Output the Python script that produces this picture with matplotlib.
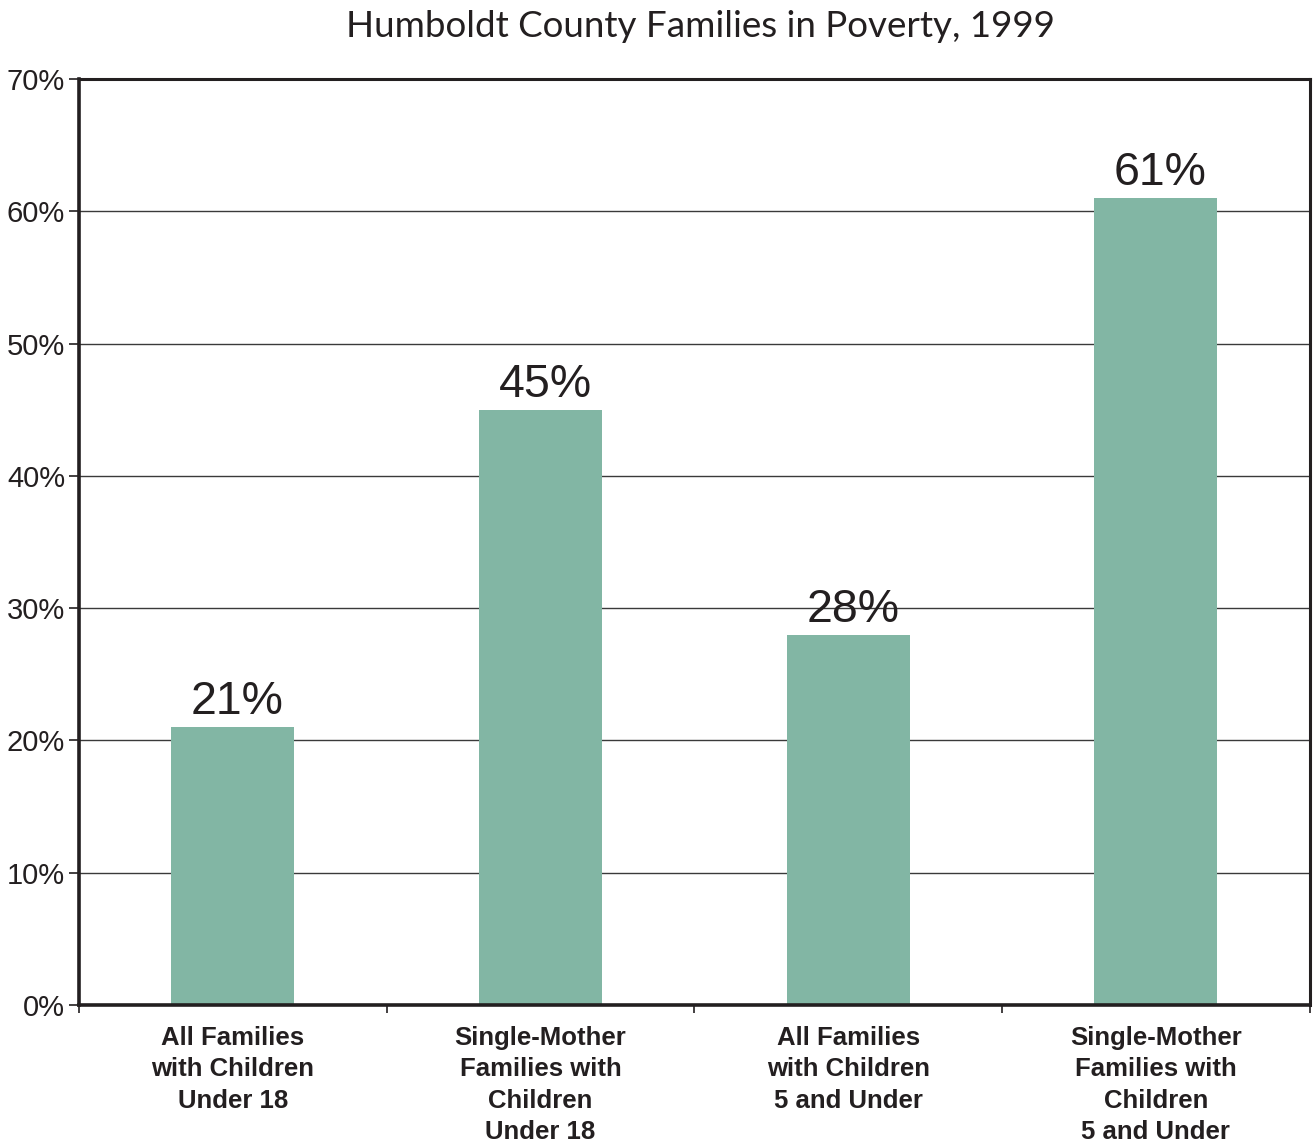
import matplotlib.pyplot as plt

# data
categories = ['All Families\nwith Children\nUnder 18',
              'Single-Mother\nFamilies with\nChildren\nUnder 18',
              'All Families\nwith Children\n5 and Under',
              'Single-Mother\nFamilies with\nChildren\n5 and Under']
values = [21, 45, 28, 61]
y_ticks = [0, 10, 20, 30, 40, 50, 60, 70]

bar_color = '#82b6a4'
text_color = '#231f20'

plt.rcParams['font.family'] = ['Liberation Sans', 'DejaVu Sans']

fig = plt.figure(figsize=(13.15, 11.47), dpi=100)
ax = fig.add_axes([0.060, 0.1238, 0.936, 0.8073])

x = range(len(values))
bars = ax.bar(x, values, width=0.40, color=bar_color, zorder=2)

for i, v in enumerate(values):
    ax.annotate(str(v) + '%', (i + 0.015, v), xytext=(0, 2), textcoords='offset points',
                ha='center', va='bottom', fontsize=33.5, color=text_color)

ax.set_xlim(-0.5, len(values) - 0.5)
ax.set_ylim(0, 70)
ax.set_yticks(y_ticks)
ax.set_yticklabels([str(t) + '%' for t in y_ticks], fontsize=21, color=text_color)
ax.yaxis.grid(True, color='#3a3a3a', linewidth=1.0, zorder=1)
ax.set_axisbelow(True)

# category boundaries carry the x ticks, labels go under the bars
ax.set_xticks([i - 0.5 for i in range(len(values) + 1)])
ax.set_xticklabels([])
ax.tick_params(axis='x', length=6, width=1.2, color=text_color, direction='out')
ax.tick_params(axis='y', length=7, width=1.2, color=text_color, pad=3)
for i, lab in enumerate(categories):
    ax.text(i, -1.6, lab, ha='center', va='top', fontsize=18.5, fontweight='bold',
            color=text_color, linespacing=1.38)

for side in ['left', 'bottom']:
    ax.spines[side].set_linewidth(2.6)
    ax.spines[side].set_color(text_color)
for side in ['top', 'right']:
    ax.spines[side].set_linewidth(2.2)
    ax.spines[side].set_color(text_color)

fig.text(0.533, 0.977, 'Humboldt County Families in Poverty, 1999', ha='center', va='center',
         fontsize=26.5, color=text_color, family=['Lato', 'DejaVu Sans'])

fig.savefig('out.png', dpi=100)
